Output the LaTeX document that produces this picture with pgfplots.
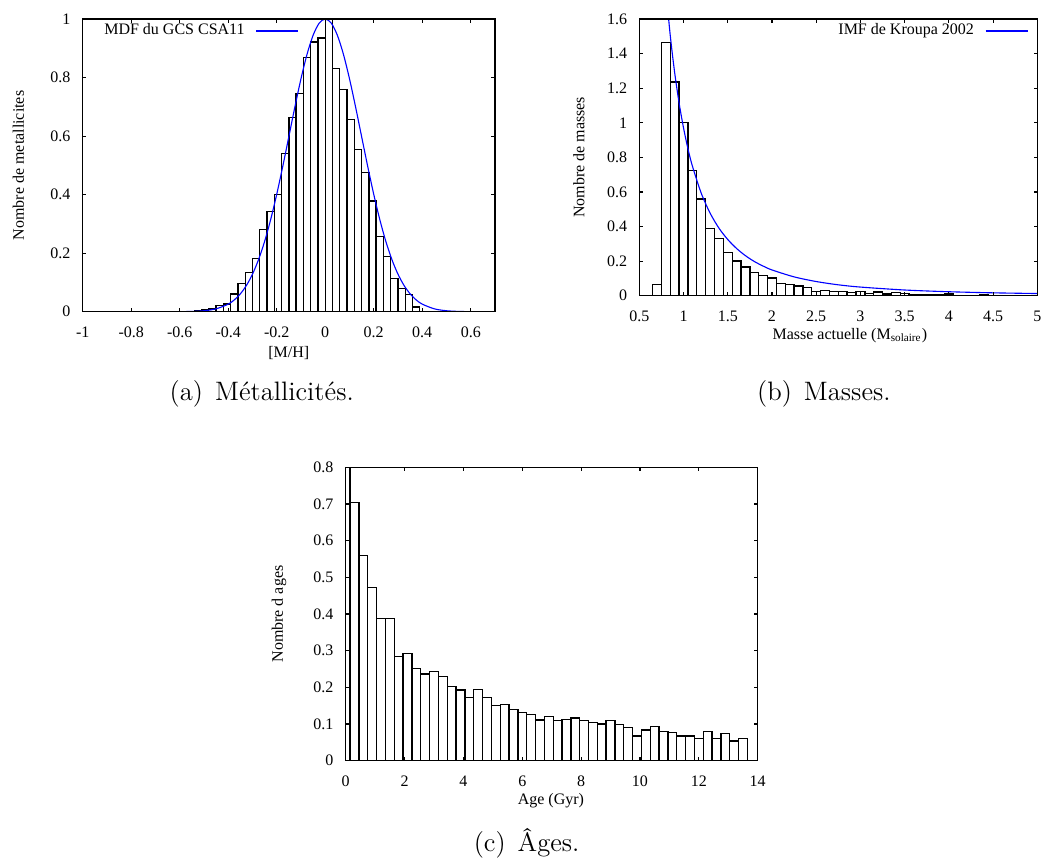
\documentclass[border=0pt]{standalone}
\usepackage{fontspec}
\newfontfamily\gp{Liberation Serif}
\usepackage{pgfplots}
\pgfplotsset{compat=1.18}
\newcommand\gpf{\gp\fontsize{7.2}{8.6}\selectfont}
\pgfplotsset{gnu/.style={
  scale only axis, axis on top, clip=true,
  anchor=north west,
  axis line style={line width=0.6pt},
  tick align=inside, major tick length=1.6pt,
  every tick/.style={black, line width=0.5pt},
  tick label style={font=\gpf},
  yticklabel style={xshift=-2pt},
  xticklabel style={yshift=-3.3pt},
  label style={font=\gpf},
  legend style={draw=none, fill=none, font=\gpf, inner sep=0pt},
  legend plot pos=right,
  /tikz/every odd column/.append style={column sep=3pt},
  legend image code/.code={\draw[#1] (0pt,0pt) -- (18.9pt,0pt);},
}}
\begin{document}
\begin{tikzpicture}
\path[use as bounding box] (0pt,0pt) rectangle (477.9pt,-386.55pt);

% (a) Metallicities
\begin{axis}[gnu,
  at={(37.215pt,-8.55pt)}, width=185.535pt, height=131.715pt,
  xmin=-1, xmax=0.7, ymin=0, ymax=1,
  xtick={-1,-0.8,-0.6,-0.4,-0.2,0,0.2,0.4,0.6},
  xticklabels={-1,-0.8,-0.6,-0.4,-0.2,0,0.2,0.4,0.6},
  ytick={0,0.2,0.4,0.6,0.8,1},
  yticklabels={0,0.2,0.4,0.6,0.8,1},
  xlabel={[M/H]}, ylabel={Nombre de metallicites},
  xlabel style={at={(axis description cs:0.5,-0.156)}, anchor=base},
  ylabel style={at={(axis description cs:-0.156,0.5)}, anchor=center},
  legend style={at={(axis description cs:0.0405,0.959)}, anchor=west},
]
\addplot[ybar interval, draw=black, fill=white, line width=0.6pt, forget plot] coordinates {
(-0.54,0.003) (-0.51,0.006) (-0.48,0.009) (-0.45,0.022) (-0.42,0.026) (-0.39,0.06)
(-0.36,0.097) (-0.33,0.133) (-0.30,0.182) (-0.27,0.281) (-0.24,0.343) (-0.21,0.40)
(-0.18,0.54) (-0.15,0.664) (-0.12,0.745) (-0.09,0.868) (-0.06,0.921) (-0.03,0.935)
(0,1.0) (0.03,0.831) (0.06,0.76) (0.09,0.656) (0.12,0.555) (0.15,0.475) (0.18,0.378)
(0.21,0.257) (0.24,0.188) (0.27,0.113) (0.30,0.079) (0.33,0.058) (0.36,0.016) (0.39,0)
};
\addplot[blue, line width=0.5pt, smooth] coordinates {
(-1,0) (-0.7,0) (-0.6,0.0003) (-0.55,0.0010) (-0.5,0.0033) (-0.45,0.0098) (-0.4,0.0259)
(-0.375,0.0403) (-0.35,0.0610) (-0.325,0.0897) (-0.3,0.1281) (-0.275,0.1779) (-0.25,0.2400)
(-0.225,0.3148) (-0.2,0.4012) (-0.175,0.4970) (-0.15,0.5983) (-0.125,0.7000) (-0.1,0.7959)
(-0.075,0.8795) (-0.05,0.9445) (-0.025,0.9858) (0,1)
(0.025,0.9858) (0.05,0.9445) (0.075,0.8795) (0.1,0.7959) (0.125,0.7000) (0.15,0.5983)
(0.175,0.4970) (0.2,0.4012) (0.225,0.3148) (0.25,0.2400) (0.275,0.1779) (0.3,0.1281)
(0.325,0.0897) (0.35,0.0610) (0.375,0.0403) (0.4,0.0259) (0.45,0.0098) (0.5,0.0033)
(0.55,0.0010) (0.6,0.0003) (0.7,0)
};
\addlegendentry{MDF du GCS CSA11}
\end{axis}

% (b) Masses
\begin{axis}[gnu,
  at={(287.685pt,-8.55pt)}, width=179.1pt, height=124.515pt,
  xmin=0.5, xmax=5, ymin=0, ymax=1.6,
  xtick={0.5,1,1.5,2,2.5,3,3.5,4,4.5,5},
  xticklabels={0.5,1,1.5,2,2.5,3,3.5,4,4.5,5},
  ytick={0,0.2,0.4,0.6,0.8,1,1.2,1.4,1.6},
  yticklabels={0,0.2,0.4,0.6,0.8,1,1.2,1.4,1.6},
  xlabel={Masse actuelle (M\textsubscript{solaire})}, ylabel={Nombre de masses},
  xlabel style={at={(axis description cs:0.529,-0.1565)}, anchor=base},
  ylabel style={at={(axis description cs:-0.1515,0.5)}, anchor=center},
  legend style={at={(axis description cs:0.488,0.9566)}, anchor=west},
]
\addplot[ybar interval, draw=black, fill=white, line width=0.6pt, forget plot] coordinates {
(0.65,0.066) (0.75,1.465) (0.85,1.236) (0.95,1.0) (1.05,0.723) (1.15,0.559) (1.25,0.389)
(1.35,0.330) (1.45,0.251) (1.55,0.200) (1.65,0.166) (1.75,0.133) (1.85,0.118) (1.95,0.102)
(2.05,0.069) (2.15,0.066) (2.25,0.056) (2.35,0.048) (2.45,0.023) (2.55,0.031) (2.65,0.025)
(2.75,0.025) (2.85,0.019) (2.95,0.023) (3.05,0.013) (3.15,0.021) (3.25,0.010) (3.35,0.017)
(3.45,0.013) (3.55,0.006) (3.65,0.008) (3.75,0.004) (3.85,0.008) (3.95,0.010) (4.05,0.003)
(4.15,0.002) (4.25,0.003) (4.35,0.004) (4.45,0.003) (4.55,0.002) (4.65,0.002) (4.75,0.001)
(4.85,0.002) (4.95,0.001) (5.05,0)
};
\addplot[blue, line width=0.5pt, smooth] coordinates {
(0.8,1.772) (0.85,1.504) (0.9,1.289) (0.95,1.114) (1.0,0.97) (1.05,0.850) (1.1,0.750)
(1.2,0.593) (1.3,0.478) (1.4,0.391) (1.5,0.325) (1.6,0.273) (1.7,0.2315) (1.8,0.198)
(1.9,0.1714) (2.0,0.149) (2.25,0.109) (2.5,0.082) (2.75,0.063) (3.0,0.050) (3.5,0.033)
(4.0,0.023) (4.5,0.0167) (5.0,0.0126)
};
\addlegendentry{IMF de Kroupa 2002}
\end{axis}

% (c) Ages
\begin{axis}[gnu,
  at={(155.565pt,-210.285pt)}, width=185.4pt, height=132.03pt,
  xmin=0, xmax=14, ymin=0, ymax=0.8,
  xtick={0,2,4,6,8,10,12,14},
  xticklabels={0,2,4,6,8,10,12,14},
  ytick={0,0.1,0.2,0.3,0.4,0.5,0.6,0.7,0.8},
  yticklabels={0,0.1,0.2,0.3,0.4,0.5,0.6,0.7,0.8},
  xlabel={Age (Gyr)}, ylabel={Nombre d ages},
  xlabel style={at={(axis description cs:0.498,-0.151)}, anchor=base},
  ylabel style={at={(axis description cs:-0.162,0.5)}, anchor=center},
]
\addplot[ybar interval, draw=black, fill=white, line width=0.6pt] coordinates {
(0,1.0) (0.15,0.704) (0.45,0.56) (0.75,0.472) (1.05,0.388) (1.35,0.388) (1.65,0.284)
(1.95,0.292) (2.25,0.252) (2.55,0.236) (2.85,0.243) (3.15,0.229) (3.45,0.202) (3.75,0.193)
(4.05,0.173) (4.35,0.195) (4.65,0.173) (4.95,0.151) (5.25,0.153) (5.55,0.14) (5.85,0.131)
(6.15,0.126) (6.45,0.111) (6.75,0.12) (7.05,0.11) (7.35,0.112) (7.65,0.116) (7.95,0.11)
(8.25,0.105) (8.55,0.1) (8.85,0.109) (9.15,0.098) (9.45,0.091) (9.75,0.067) (10.05,0.084)
(10.35,0.093) (10.65,0.08) (10.95,0.076) (11.25,0.067) (11.55,0.067) (11.85,0.061)
(12.15,0.08) (12.45,0.061) (12.75,0.075) (13.05,0.054) (13.35,0.06) (13.65,0)
};
\end{axis}

% captions
\node[anchor=base west, inner sep=0pt, font=\fontsize{12}{14}\selectfont] at (76.185pt,-180pt) {(a)\hspace{0.45em}Métallicités.};
\node[anchor=base west, inner sep=0pt, font=\fontsize{12}{14}\selectfont] at (340.5pt,-180pt) {(b)\hspace{0.45em}Masses.};
\node[anchor=base west, inner sep=0pt, font=\fontsize{12}{14}\selectfont] at (212.99pt,-382.95pt) {(c)\hspace{0.45em}Âges.};
\end{tikzpicture}
\end{document}
